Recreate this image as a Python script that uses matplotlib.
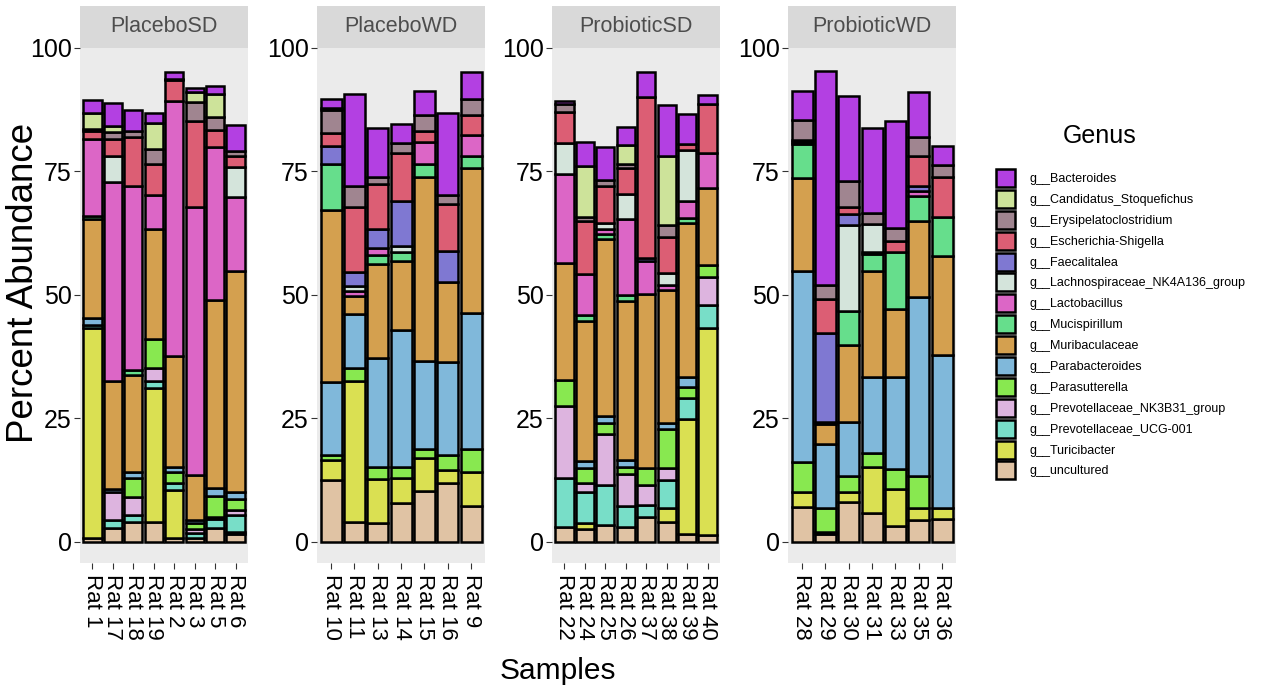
import matplotlib

matplotlib.use("Agg")
import matplotlib.pyplot as plt
import numpy as np
from matplotlib.patches import Patch

plt.rcParams["font.family"] = ["Liberation Sans", "DejaVu Sans"]

# legend order (top of the stack first)
GENERA = [
    "g__Bacteroides",
    "g__Candidatus_Stoquefichus",
    "g__Erysipelatoclostridium",
    "g__Escherichia-Shigella",
    "g__Faecalitalea",
    "g__Lachnospiraceae_NK4A136_group",
    "g__Lactobacillus",
    "g__Mucispirillum",
    "g__Muribaculaceae",
    "g__Parabacteroides",
    "g__Parasutterella",
    "g__Prevotellaceae_NK3B31_group",
    "g__Prevotellaceae_UCG-001",
    "g__Turicibacter",
    "g__uncultured",
]
COLORS = [
    "#B340E2", "#CDE39A", "#A08590", "#DC5E74", "#7F78D2",
    "#D4E4DB", "#DC66C6", "#66DE8C", "#D4A04F", "#80B8DA",
    "#88E850", "#DDB4DF", "#78DEC8", "#DAE052", "#E0C3A4",
]

GROUPS = ["PlaceboSD", "PlaceboWD", "ProbioticSD", "ProbioticWD"]

SAMPLES_PLACEBO_SD = ["Rat 1", "Rat 17", "Rat 18", "Rat 19", "Rat 2", "Rat 3", "Rat 5", "Rat 6"]
SAMPLES_PLACEBO_WD = ["Rat 10", "Rat 11", "Rat 13", "Rat 14", "Rat 15", "Rat 16", "Rat 9"]
SAMPLES_PROBIOTIC_SD = ["Rat 22", "Rat 24", "Rat 25", "Rat 26", "Rat 37", "Rat 38", "Rat 39", "Rat 40"]
SAMPLES_PROBIOTIC_WD = ["Rat 28", "Rat 29", "Rat 30", "Rat 31", "Rat 33", "Rat 35", "Rat 36"]

# percent abundance per sample; columns go bottom -> top of the bar
# (uncultured, Turicibacter, UCG-001, NK3B31, Parasutterella, Parabacteroides,
#  Muribaculaceae, Mucispirillum, Lactobacillus, Lachnospiraceae, Faecalitalea,
#  Escherichia, Erysipelatoclostridium, Candidatus, Bacteroides)
PLACEBO_SD = [
    [0.8, 42.4, 0.8, 0.0, 0.0, 1.3, 20.0, 0.7, 15.5, 0.0, 0.0, 1.7, 0.4, 3.3, 2.5],
    [2.7, 0.0, 1.7, 5.7, 0.0, 0.6, 21.8, 0.0, 40.4, 5.2, 0.0, 3.4, 1.4, 1.3, 4.6],
    [4.1, 0.0, 1.3, 3.7, 3.8, 1.3, 19.6, 1.0, 37.3, 0.0, 0.0, 9.9, 1.2, 0.0, 4.2],
    [4.1, 27.0, 1.5, 2.6, 5.9, 0.0, 22.2, 0.0, 6.9, 0.0, 0.0, 6.4, 2.9, 5.4, 2.0],
    [0.7, 9.8, 1.5, 0.0, 2.1, 1.1, 22.4, 0.0, 51.6, 0.0, 0.0, 4.3, 0.3, 0.0, 1.3],
    [0.8, 0.0, 0.9, 0.9, 1.3, 0.5, 9.1, 0.0, 54.3, 0.0, 0.0, 17.5, 3.7, 2.0, 1.0],
    [2.8, 0.0, 1.8, 0.4, 4.3, 1.5, 38.1, 0.0, 31.1, 0.0, 0.0, 3.4, 2.7, 4.6, 1.7],
    [1.5, 0.5, 3.4, 1.0, 2.3, 1.4, 44.8, 0.0, 14.9, 6.1, 0.0, 2.2, 1.1, 0.0, 5.2],
]
PLACEBO_WD = [
    [12.5, 4.1, 0.0, 0.0, 1.0, 14.7, 34.8, 9.4, 0.0, 0.0, 3.7, 2.5, 4.7, 0.5, 1.7],
    [4.1, 28.4, 0.0, 0.0, 2.7, 10.9, 3.6, 0.0, 1.0, 1.1, 2.9, 13.1, 4.3, 0.0, 18.6],
    [3.9, 8.8, 0.0, 0.0, 2.5, 22.0, 19.1, 1.8, 1.4, 0.0, 3.8, 9.1, 1.5, 0.0, 9.9],
    [7.8, 5.1, 0.0, 0.0, 2.3, 27.6, 14.0, 1.9, 0.0, 1.2, 9.1, 9.8, 1.9, 0.0, 3.9],
    [10.3, 6.6, 0.0, 0.0, 1.9, 17.9, 37.2, 2.7, 4.3, 0.0, 0.0, 2.2, 3.4, 0.0, 4.7],
    [12.0, 2.5, 0.0, 0.0, 3.1, 18.9, 16.1, 0.0, 0.0, 0.0, 6.3, 9.6, 1.7, 0.0, 16.7],
    [7.3, 6.9, 0.0, 0.0, 4.6, 27.5, 29.3, 2.5, 4.3, 0.0, 0.0, 4.1, 3.1, 0.0, 5.5],
]
PROBIOTIC_SD = [
    [3.0, 0.0, 10.0, 14.4, 5.4, 0.0, 23.7, 0.0, 17.9, 6.3, 0.0, 6.4, 1.5, 0.0, 0.7],
    [2.6, 1.3, 6.1, 2.0, 2.9, 1.5, 28.3, 1.2, 8.4, 0.0, 0.0, 10.7, 0.8, 10.3, 4.8],
    [3.4, 0.0, 8.1, 10.3, 2.2, 1.4, 36.0, 1.0, 0.9, 1.3, 0.0, 7.5, 1.1, 0.0, 6.8],
    [3.0, 0.0, 4.3, 6.4, 1.5, 1.4, 32.1, 1.2, 15.4, 5.1, 0.0, 5.2, 0.9, 3.9, 3.6],
    [5.1, 0.0, 2.3, 4.1, 3.5, 0.0, 35.2, 0.0, 6.6, 0.0, 0.6, 32.6, 0.0, 0.0, 5.1],
    [4.1, 2.7, 5.7, 2.5, 7.9, 1.1, 26.9, 0.0, 1.1, 2.5, 0.0, 7.2, 2.4, 14.0, 10.4],
    [1.5, 23.4, 4.3, 0.0, 2.1, 2.0, 31.3, 1.0, 3.5, 10.2, 0.0, 1.3, 0.0, 0.0, 6.1],
    [1.4, 41.9, 4.7, 5.6, 2.4, 0.0, 15.7, 0.0, 7.1, 0.0, 0.0, 9.8, 0.0, 0.0, 1.9],
]
PROBIOTIC_WD = [
    [7.1, 3.0, 0.0, 0.0, 6.0, 38.7, 18.9, 6.8, 0.4, 0.0, 0.5, 0.0, 4.0, 0.0, 5.8],
    [1.5, 0.4, 0.0, 0.0, 4.9, 13.0, 4.0, 0.5, 0.0, 0.0, 18.0, 6.8, 2.9, 0.0, 43.3],
    [8.0, 2.1, 0.0, 0.0, 3.3, 10.8, 15.6, 7.0, 0.0, 17.3, 2.3, 1.4, 5.3, 0.0, 17.2],
    [5.8, 9.4, 0.0, 0.0, 2.7, 15.4, 21.5, 3.4, 0.5, 5.6, 0.0, 0.0, 2.3, 0.0, 17.2],
    [3.2, 7.5, 0.0, 0.0, 4.1, 18.5, 13.9, 11.5, 0.0, 0.0, 0.0, 2.3, 2.6, 0.0, 21.7],
    [4.4, 2.5, 0.0, 0.0, 6.5, 36.1, 15.5, 5.0, 1.0, 0.0, 1.0, 6.1, 3.8, 0.0, 9.1],
    [4.6, 2.3, 0.0, 0.0, 0.0, 30.9, 20.0, 8.0, 0.0, 0.0, 0.0, 8.1, 2.4, 0.0, 3.9],
]

SAMPLES = [SAMPLES_PLACEBO_SD, SAMPLES_PLACEBO_WD, SAMPLES_PROBIOTIC_SD, SAMPLES_PROBIOTIC_WD]
VALUES = [PLACEBO_SD, PLACEBO_WD, PROBIOTIC_SD, PROBIOTIC_WD]

W, H = 1262, 687
fig = plt.figure(figsize=(W / 100, H / 100), dpi=100)
fig.patch.set_facecolor("white")

stack_colors = COLORS[::-1]
panel_left = [80, 317, 552, 788]
panel_w = 168
top_px, bot_px, strip_top = 48, 563, 6

for left, group, samples, vals in zip(panel_left, GROUPS, SAMPLES, VALUES):
    ax = fig.add_axes([left / W, 1 - bot_px / H, panel_w / W, (bot_px - top_px) / H])
    ax.set_facecolor("#EBEBEB")
    v = np.array(vals)
    x = np.arange(len(samples))
    bottom = np.zeros(len(samples))
    for j in range(v.shape[1]):
        h = v[:, j]
        keep = h > 0
        ax.bar(x[keep], h[keep], 0.9, bottom=bottom[keep], color=stack_colors[j],
               edgecolor="black", linewidth=1.8)
        bottom += h
    ax.set_xlim(-0.6, len(samples) - 0.4)
    ax.set_ylim(-4.3, 100)
    ax.set_yticks([0, 25, 50, 75, 100])
    ax.set_xticks(x, samples, rotation=-90, fontsize=16)
    ax.tick_params(axis="y", labelsize=18, length=4, color="#333333", pad=2)
    ax.tick_params(axis="x", length=4, color="#333333", pad=4)
    for s in ax.spines.values():
        s.set_visible(False)

    sax = fig.add_axes([left / W, 1 - top_px / H, panel_w / W, (top_px - strip_top) / H])
    sax.set_facecolor("#D9D9D9")
    sax.set_xticks([])
    sax.set_yticks([])
    for s in sax.spines.values():
        s.set_visible(False)
    sax.text(0.5, 0.5, group, ha="center", va="center", fontsize=15.5, color="#4D4D4D",
             transform=sax.transAxes)

fig.text(24 / W, 1 - 283 / H, "Percent Abundance", rotation=90, ha="center", va="center", fontsize=26.5)
fig.text(558 / W, 1 - 679 / H, "Samples", ha="center", va="baseline", fontsize=21.5)

handles = [Patch(facecolor=c, edgecolor="black", linewidth=1.8) for c in COLORS]
fig.legend(handles, GENERA, loc="upper left", bbox_to_anchor=(996 / W, 1 - 169 / H),
           frameon=False, fontsize=9, handlelength=1.52, handleheight=1.84,
           labelspacing=0.23, handletextpad=1.2, borderpad=0, borderaxespad=0)
fig.text(1100 / W, 1 - 136 / H, "Genus", ha="center", va="center", fontsize=18)

fig.savefig("out.png", dpi=100)
